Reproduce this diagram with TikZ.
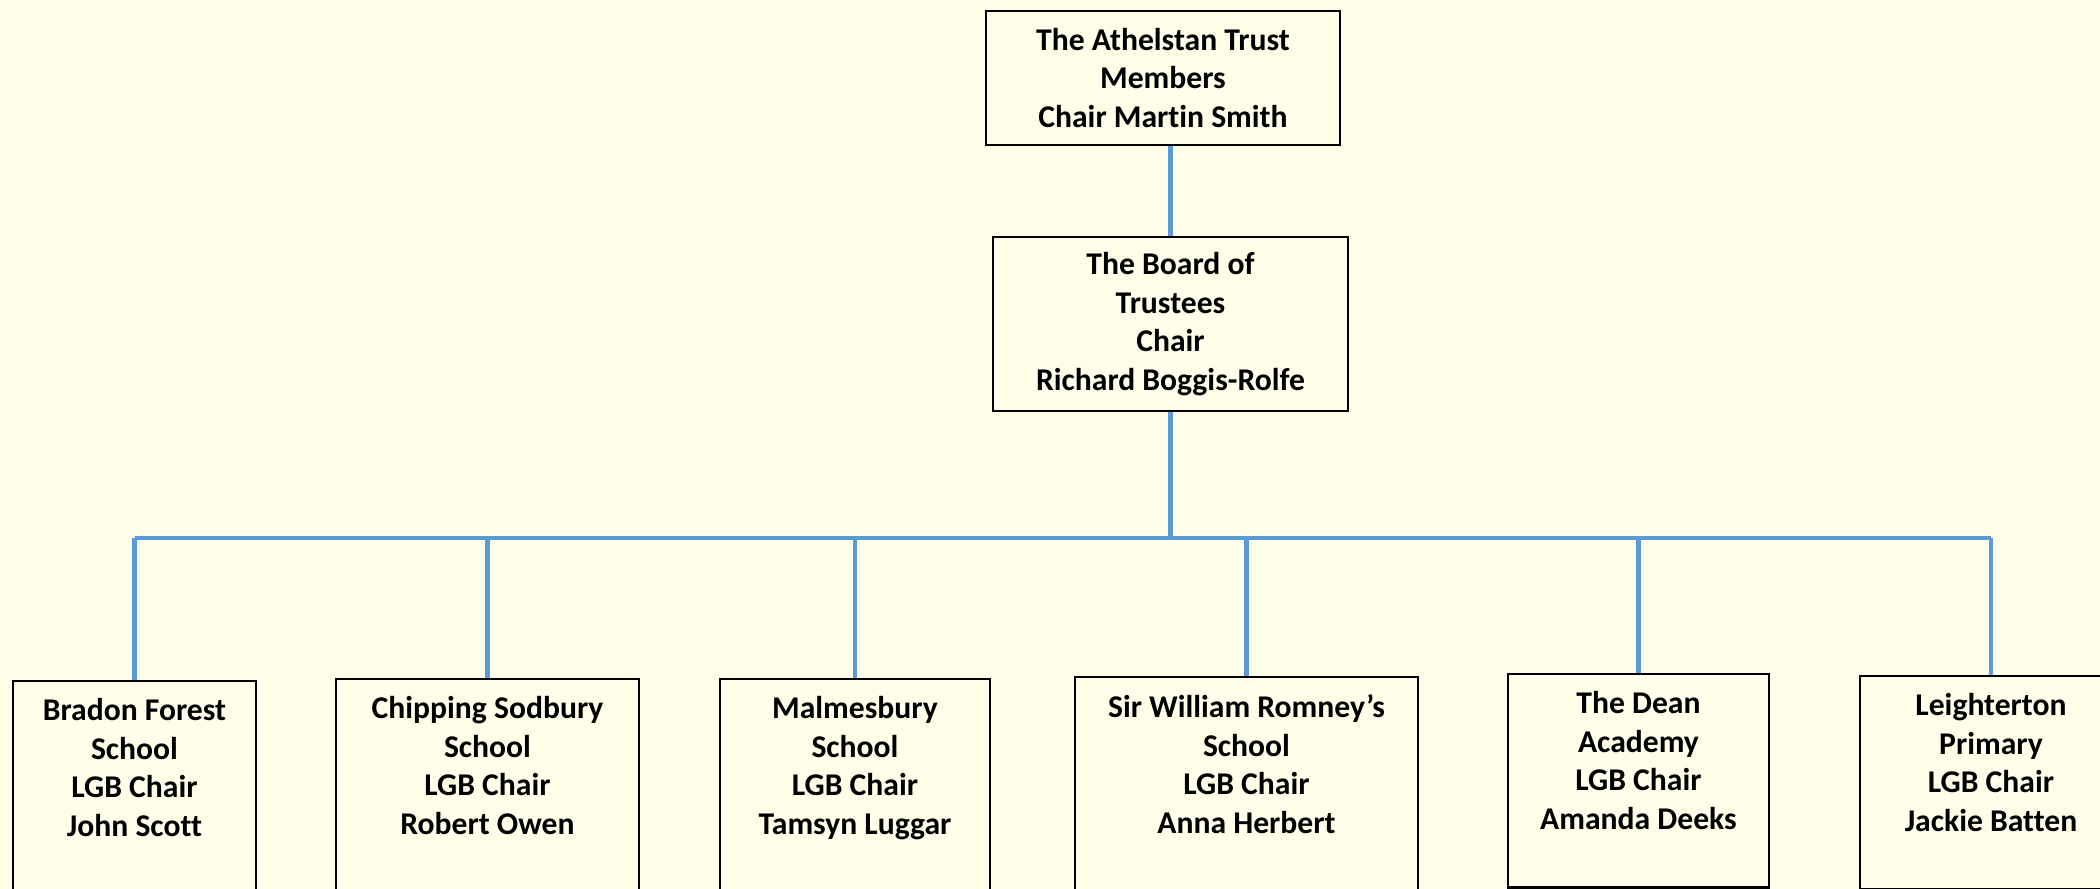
\documentclass[tikz,border=0pt]{standalone}
\usepackage{fontspec}
\setmainfont[Ligatures=NoCommon]{Carlito}
\usepackage{xcolor}
\usepackage{tikz}
\definecolor{atBack}{RGB}{255, 254, 232}
\definecolor{atLine}{RGB}{91, 155, 213}
\newcommand{\boxtail}{\rule[-11.5pt]{0pt}{0pt}}
\tikzset{
    base/.style={
        font=\fontsize{9pt}{10.95pt}\selectfont\bfseries,
        align=center
    },
    office/.style={
        base,
        rectangle,
        draw=black,
        line width=0.7pt,
        inner sep=0pt
    },
    school/.style={
        base,
        rectangle,
        draw=black,
        line width=0.7pt,
        anchor=north,
        inner xsep=0pt,
        inner ysep=5pt
    },
    link/.style={
        draw=atLine,
        line width=1.35pt
    }
}
\begin{document}
\begin{tikzpicture}
  \path[fill=atBack, use as bounding box] (0,0) rectangle (21,8.89);
  \clip (0,0) rectangle (21,8.89);

  % Trust and board
  \node[office, minimum width=3.54cm, minimum height=1.34cm] (members) at (11.63,8.11) {The Athelstan Trust\\Members\\Chair Martin Smith};
  \node[office, minimum width=3.55cm, minimum height=1.74cm] (board) at (11.705,5.65) {The Board of\\Trustees\\Chair\\Richard Boggis-Rolfe};

  % Schools
  \node[school, minimum width=2.43cm] (bradon) at (1.345,2.09) {Bradon Forest\\School\\LGB Chair\\John Scott\boxtail};
  \node[school, minimum width=3.03cm] (chipping) at (4.875,2.11) {Chipping Sodbury\\School\\LGB Chair\\Robert Owen\boxtail};
  \node[school, minimum width=2.70cm] (malmesbury) at (8.55,2.11) {Malmesbury\\School\\LGB Chair\\Tamsyn Luggar\boxtail};
  \node[school, minimum width=3.43cm] (romney) at (12.465,2.13) {Sir William Romney’s\\School\\LGB Chair\\Anna Herbert\boxtail};
  \node[school, minimum width=2.61cm] (dean) at (16.385,2.16) {The Dean\\Academy\\LGB Chair\\Amanda Deeks\boxtail};
  \node[school, minimum width=2.62cm] (leighterton) at (19.91,2.14) {Leighterton\\Primary\\LGB Chair\\Jackie Batten\boxtail};

  % Connectors
  \coordinate (busL) at (1.345,3.51);
  \coordinate (busR) at (19.91,3.51);
  \draw[link] (board.north |- members.south) -- (board.north);
  \draw[link] (board.south) -- (board.south |- busL);
  \draw[link] (busL) -- (busR);
  \foreach \s in {bradon, chipping, malmesbury, romney, dean, leighterton}
    \draw[link] (\s.north |- busL) -- (\s.north);
\end{tikzpicture}
\end{document}
